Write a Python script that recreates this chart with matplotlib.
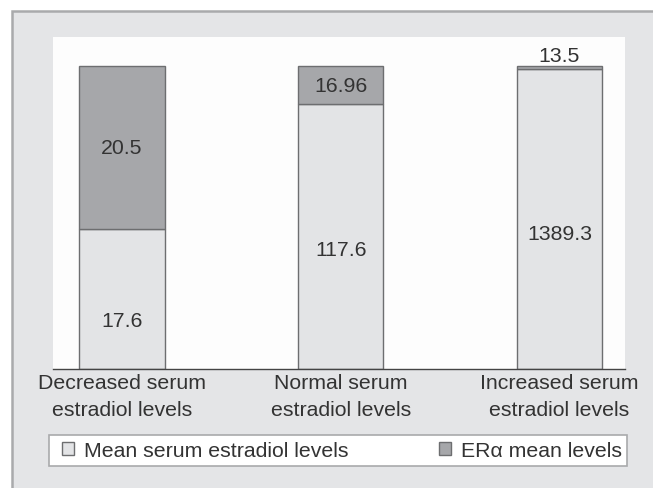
import numpy as np
import matplotlib.pyplot as plt
from matplotlib.patches import Rectangle

plt.rcParams["font.family"] = ["Liberation Sans", "DejaVu Sans"]

categories = ["Decreased serum\nestradiol levels", "Normal serum\nestradiol levels",
              "Increased serum\nestradiol levels"]
serum_values = [17.6, 117.6, 1389.3]
era_values = [20.5, 16.96, 13.5]
serum_labels = ["17.6", "117.6", "1389.3"]
era_labels = ["20.5", "16.96", "13.5"]

serum = np.array(serum_values)
era = np.array(era_values)
total = serum + era
serum_pct = serum / total * 100
era_pct = era / total * 100

W, H = 653, 489
fig = plt.figure(figsize=(W / 100, H / 100), dpi=100)
fig.patch.set_facecolor("white")

# grey frame behind everything
frame = Rectangle((12 / W, -0.1), 1.2, (H - 12) / H + 0.1,
                  transform=fig.transFigure, facecolor="#e4e5e7",
                  edgecolor="#a9aaac", linewidth=1.8, zorder=-10)
fig.patches.append(frame)

# legend box
box = Rectangle((49 / W, (H - 467) / H), (627 - 49) / W, 31 / H,
                transform=fig.transFigure, facecolor="white",
                edgecolor="#a9aaac", linewidth=1.2, zorder=-5)
fig.patches.append(box)

ax = fig.add_axes([53 / W, (H - 370) / H, (625 - 53) / W, (370 - 38) / H])
ax.set_facecolor("#fdfdfd")

x = np.arange(len(categories))
w = 0.39
edge = "#6d6e70"
ax.bar(x, serum_pct, w, color="#e3e4e6", edgecolor=edge, linewidth=1.0,
       label="Mean serum estradiol levels")
ax.bar(x, era_pct, w, bottom=serum_pct, color="#a6a7aa", edgecolor=edge,
       linewidth=1.0, label="ERα mean levels")

fs = 15.3
txt = "#333333"
label_frac = [0.35, 0.45, 0.45]  # where the lower label sits inside the bar
for i in range(len(x)):
    ax.text(x[i], serum_pct[i] * label_frac[i], serum_labels[i], ha="center",
            va="center", fontsize=fs, color=txt)
    if era_pct[i] > 8:
        ax.text(x[i], serum_pct[i] + era_pct[i] / 2, era_labels[i], ha="center",
                va="center", fontsize=fs, color=txt)
    else:
        ax.text(x[i], 100.5, era_labels[i], ha="center", va="bottom",
                fontsize=fs, color=txt)

ax.set_xlim(-0.315, 2.30)
ax.set_ylim(0, 109.6)
ax.set_yticks([])
ax.set_xticks(x)
ax.set_xticklabels(categories, fontsize=fs, color=txt, linespacing=1.55)
ax.tick_params(axis="x", length=0, pad=3)
for s in ["top", "left", "right"]:
    ax.spines[s].set_visible(False)
ax.spines["bottom"].set_color("#444444")
ax.spines["bottom"].set_linewidth(1.0)

leg = fig.legend(loc="center", bbox_to_anchor=(342 / W, (H - 451.5) / H),
                 ncol=2, fontsize=fs, frameon=False,
                 handlelength=0.55, handleheight=0.55, handletextpad=0.45,
                 columnspacing=4.3, borderaxespad=0, borderpad=0)
for t in leg.get_texts():
    t.set_color(txt)

fig.savefig("out.png", dpi=100)
